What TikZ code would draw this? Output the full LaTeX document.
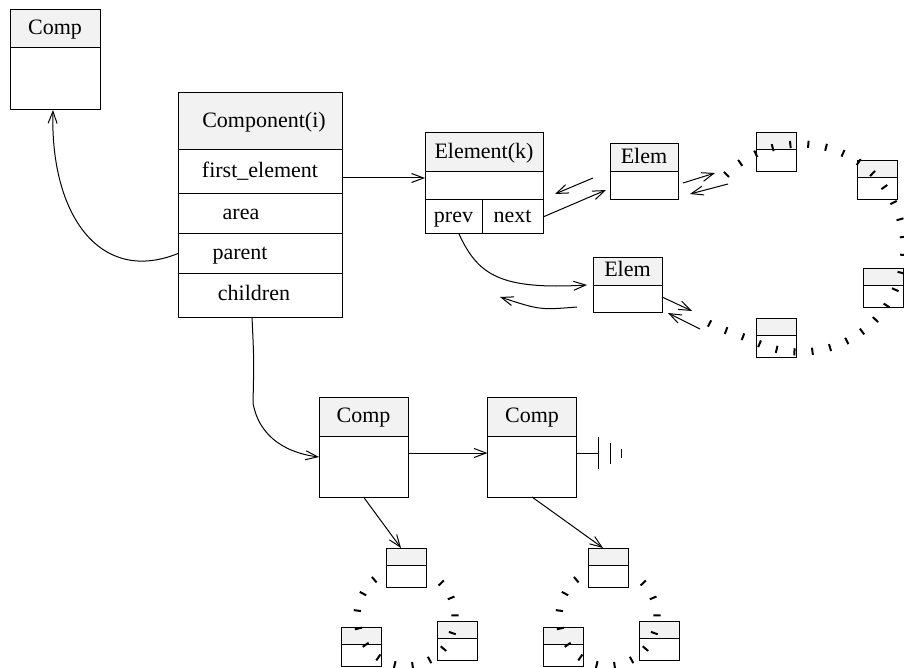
\documentclass[tikz,border=0pt]{standalone}
\usepackage{fontspec}
\setmainfont{Liberation Serif}
\usetikzlibrary{positioning,arrows.meta,decorations.pathreplacing}
\definecolor{hdrgray}{RGB}{242,242,242}
\tikzset{
  hdr/.style={draw, fill=hdrgray, inner sep=0pt, outer sep=0pt, text height=1.6ex, text depth=0.3ex, font=\fontsize{11}{13}\selectfont},
  cell/.style={draw, inner sep=0pt, outer sep=0pt, text height=1.6ex, text depth=0.3ex, font=\fontsize{11}{13}\selectfont},
  minihdr/.style={draw, fill=hdrgray, inner sep=0pt, outer sep=0pt, minimum width=20pt, minimum height=8.5pt},
  minibody/.style={draw, inner sep=0pt, outer sep=0pt, minimum width=20pt, minimum height=11pt},
  ring/.style={decorate, decoration={ticks, segment length=9pt, amplitude=1.8pt}, line width=1pt}
}

\begin{document}
\begin{tikzpicture}[x=0.5pt,y=-0.5pt,line width=0.5pt,>={Straight Barb[length=6pt,width=4.5pt]}]
\useasboundingbox (0,0) rectangle (904,668);

% Component(i) and its fields
\node[hdr, minimum width=82pt, minimum height=28.5pt] (comp) at (260,121.5) {\hspace*{4pt}Component(i)};
\node[cell, minimum width=82pt, minimum height=22pt, below=0pt of comp] (first) {first\_element};
\node[cell, minimum width=82pt, minimum height=20pt, below=0pt of first] (area) {area\hspace*{19pt}};
\node[cell, minimum width=82pt, minimum height=19.5pt, below=0pt of area] (parent) {parent\hspace*{20pt}};
\node[cell, minimum width=82pt, minimum height=22pt, below=0pt of parent] (children) {children\hspace*{6pt}};

% parent component
\node[hdr, minimum width=45pt, minimum height=19pt] (up) at (55,29) {Comp};
\node[cell, minimum width=45pt, minimum height=31pt, below=0pt of up] (upb) {};

% Element(k)
\node[hdr, minimum width=59pt, minimum height=19.5pt] (elem) at (484,152.5) {Element(k)};
\node[cell, minimum width=59pt, minimum height=14pt, below=0pt of elem] (elembody) {};
\node[cell, minimum width=28.5pt, minimum height=17pt, below right=0pt of elembody.south west] (prev) {prev};
\node[cell, minimum width=30.5pt, minimum height=17pt, right=0pt of prev] (next) {next};

% neighbour elements
\node[hdr, minimum width=34pt, minimum height=14pt] (elemA) at (644,158) {Elem};
\node[cell, minimum width=34pt, minimum height=14pt, below=0pt of elemA] (elemAb) {};
\node[hdr, minimum width=34.5pt, minimum height=14pt] (elemB) at (627.5,271) {Elem};
\node[cell, minimum width=34.5pt, minimum height=13.5pt, below=0pt of elemB] (elemBb) {};

% child components
\node[hdr, minimum width=44.5pt, minimum height=19.5pt] (kidA) at (363.5,416.5) {Comp};
\node[cell, minimum width=44.5pt, minimum height=30.5pt, below=0pt of kidA] (kidAb) {};
\node[hdr, minimum width=44.5pt, minimum height=19.5pt] (kidB) at (532,416.5) {Comp};
\node[cell, minimum width=44.5pt, minimum height=30.5pt, below=0pt of kidB] (kidBb) {};

% small boxes on the rings
\foreach \n/\x/\y in {ra/776.5/141.5, rb/877/169.5, rc/883/276.5, rd/776.5/326.5,
    la/406/556.5, lb/361/635.5, lc/457/629.5, ma/608/556.5, mb/563/635.5, mc/659/629.5} {
  \node[minihdr] (\n) at (\x,\y) {};
  \node[minibody, below=0pt of \n] (\n-b) {};
}

% the rings
\draw[ring] (800,248) ++(-135:104) arc[start angle=-135, end angle=115, radius=104]
  .. controls (737,333) and (712,328) .. (700,317);
\foreach \dx in {0,202}
  \draw[ring] (406+\dx,617) ++(-44:49) arc[start angle=-44, end angle=230, radius=49];

% links
\draw[->] ([yshift=-3pt]first.east) -- ([yshift=-3pt]first.east -| elembody.west);
\draw[->] (parent.west) .. controls (100,285) and (50,215) .. ([xshift=-1pt]upb.south);
\draw[->] ([xshift=-4pt]children.south) .. controls (254,360) .. (253,403)
  .. controls (258,432) and (280,452) .. ([yshift=4.75pt]kidAb.west);
\draw[->] ([yshift=6.75pt]kidAb.east) -- ([yshift=6.75pt]kidAb.east -| kidBb.west);
\draw ([yshift=6.75pt]kidBb.east) -- ++(22,0) coordinate (gnd);
\draw (gnd) ++(0,-16) -- ++(0,32);
\draw (gnd) ++(12,-10.5) -- ++(0,21);
\draw (gnd) ++(23,-4.5) -- ++(0,9);
\draw[->] (kidAb.south) -- ([xshift=-2.5pt]la.north);
\draw[->] (kidBb.south) -- ([xshift=-2.5pt]ma.north);

\draw[->] (next.east) -- ([shift={(-2pt,-2pt)}]elemAb.west);
\draw[->] ([shift={(-8.5pt,4pt)}]elemAb.west) -- ([shift={(6pt,-4pt)}]elembody.east);
\draw[->] ([shift={(2.5pt,1.5pt)}]elemAb.east) -- ([shift={(18.5pt,6.5pt)}]elemAb.east);
\draw[->] ([shift={(25pt,1pt)}]elemAb.east) -- ([shift={(6pt,-4pt)}]elemAb.east);

\coordinate (backtip) at (500,297);
\draw[->] ([xshift=2.75pt]prev.south) .. controls (478,275) and (500,290) .. ([xshift=-3pt]elemB.south west);
\draw[->] ([shift={(-8pt,-4.25pt)}]elemBb.west) .. controls (540,310) .. (backtip);
\draw[->] ([yshift=0.75pt]elemBb.east) -- ([shift={(15pt,-6.25pt)}]elemBb.east);
\draw[->] ([shift={(19pt,-15.25pt)}]elemBb.east) -- ([shift={(3pt,-7.25pt)}]elemBb.east);
\end{tikzpicture}
\end{document}
